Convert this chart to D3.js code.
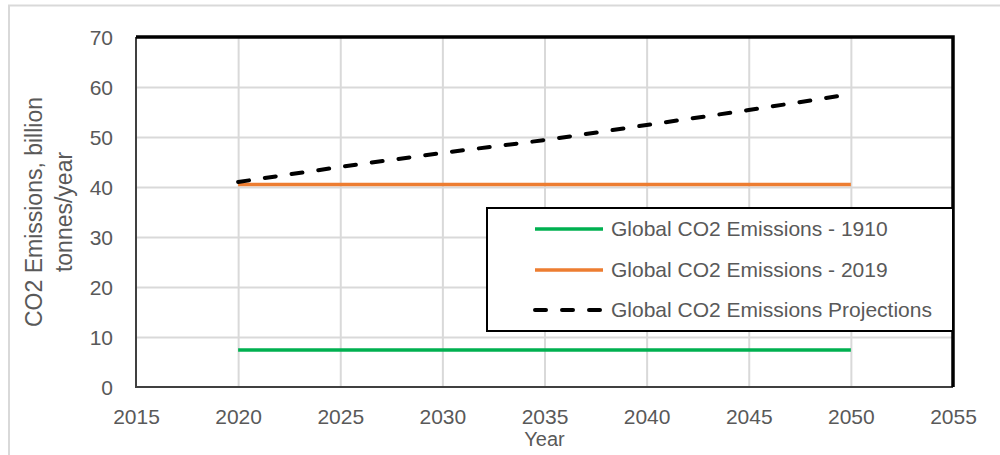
<!DOCTYPE html>
<html>
<head>
<meta charset="utf-8">
<script src="https://cdn.jsdelivr.net/npm/d3@7"></script>
<style>
  html, body { margin: 0; padding: 0; background: #fff; }
  svg { display: block; }
  text { font-family: "Liberation Sans", Arial, sans-serif; fill: #595959; }
</style>
</head>
<body>
<svg id="chart" width="1000" height="455"></svg>
<script>
// ---- data ----
const years = [2020, 2025, 2030, 2035, 2040, 2045, 2050];
const emissions1910 = [7.4, 7.4, 7.4, 7.4, 7.4, 7.4, 7.4];
const emissions2019 = [40.5, 40.5, 40.5, 40.5, 40.5, 40.5, 40.5];
const projections = [41.0, 44.0, 46.8, 49.4, 52.4, 55.4, 58.6];
const xTicks = [2015, 2020, 2025, 2030, 2035, 2040, 2045, 2050, 2055];
const yTicks = [0, 10, 20, 30, 40, 50, 60, 70];
const seriesNames = ["Global CO2 Emissions - 1910", "Global CO2 Emissions - 2019", "Global CO2 Emissions Projections"];
const seriesColors = ["#00b050", "#ed7d31", "#000000"];

(function () {
const svg = d3.select("#chart");
const pL = 136, pR = 953, pT = 37, pB = 387;

const x = d3.scaleLinear().domain([2015, 2055]).range([pL, pR]);
const y = d3.scaleLinear().domain([0, 70]).range([pB, pT]);
const FONT = '"Liberation Sans", Arial, sans-serif';

// outer frame
svg.append("path")
  .attr("d", "M9,460 L9,5.5 L1005,5.5")
  .attr("fill", "none").attr("stroke", "#d9d9d9").attr("stroke-width", 2);

// gridlines
svg.append("g")
  .attr("transform", `translate(0,${pB})`)
  .call(d3.axisBottom(x).tickValues(xTicks.slice(1, -1)).tickSize(-(pB - pT)).tickFormat(""))
  .call(g => g.select(".domain").remove())
  .call(g => g.selectAll("line").attr("stroke", "#d9d9d9").attr("stroke-width", 2));
svg.append("g")
  .attr("transform", `translate(${pL},0)`)
  .call(d3.axisLeft(y).tickValues(yTicks.slice(1, -1)).tickSize(-(pR - pL)).tickFormat(""))
  .call(g => g.select(".domain").remove())
  .call(g => g.selectAll("line").attr("stroke", "#d9d9d9").attr("stroke-width", 2));

// tick labels
svg.append("g")
  .attr("transform", `translate(0,${pB})`)
  .call(d3.axisBottom(x).tickValues(xTicks).tickSize(0).tickPadding(0).tickFormat(d3.format("d")))
  .call(g => g.select(".domain").remove())
  .call(g => g.selectAll("text").attr("dy", null).attr("y", 37)
    .style("font-size", "21px").style("fill", "#595959").style("font-family", FONT));
svg.append("g")
  .attr("transform", `translate(${pL},0)`)
  .call(d3.axisLeft(y).tickValues(yTicks).tickSize(0).tickPadding(0).tickFormat(d3.format("d")))
  .call(g => g.select(".domain").remove())
  .call(g => g.selectAll("text").attr("x", -23).attr("dy", "0.35em")
    .style("font-size", "21px").style("fill", "#595959").style("font-family", FONT));

// plot border
svg.append("path").attr("d", `M${pL},${pT} L${pL},${pB} L${pR},${pB}`)
  .attr("fill", "none").attr("stroke", "#404040").attr("stroke-width", 2);
svg.append("path").attr("d", `M${pL},${pT} L${pR},${pT} L${pR},${pB}`)
  .attr("fill", "none").attr("stroke", "#000").attr("stroke-width", 3.5);

// series
const line = d3.line().x(d => x(d[0])).y(d => y(d[1]));
const zip = vals => years.map((yr, i) => [yr, vals[i]]);

svg.append("path").datum(zip(emissions1910)).attr("d", line)
  .attr("fill", "none").attr("stroke", seriesColors[0]).attr("stroke-width", 3.5);
svg.append("path").datum(zip(emissions2019)).attr("d", line)
  .attr("fill", "none").attr("stroke", seriesColors[1]).attr("stroke-width", 3.5);
svg.append("path").datum(zip(projections)).attr("d", d3.line().x(d => x(d[0])).y(d => y(d[1])).curve(d3.curveMonotoneX))
  .attr("fill", "none").attr("stroke", seriesColors[2]).attr("stroke-width", 4)
  .attr("stroke-dasharray", "11,16").attr("stroke-linecap", "round");

// legend
const lg = svg.append("g");
lg.append("rect").attr("x", 487).attr("y", 208).attr("width", pR - 487).attr("height", 123)
  .attr("fill", "#fff").attr("stroke", "#000").attr("stroke-width", 2);
const rowY = [229, 270, 310];
seriesNames.forEach((name, i) => {
  const l = lg.append("line").attr("x1", 535).attr("x2", 603).attr("y1", rowY[i]).attr("y2", rowY[i])
    .attr("stroke", seriesColors[i]).attr("stroke-width", i === 2 ? 4 : 3.5);
  if (i === 2) l.attr("stroke-dasharray", "11,16").attr("stroke-linecap", "round");
  lg.append("text").attr("x", 611).attr("y", rowY[i]).attr("dy", "0.35em")
    .style("font-size", "21px").text(name);
});

// axis titles
svg.append("text").attr("x", (pL + pR) / 2).attr("y", 446)
  .attr("text-anchor", "middle").style("font-size", "20px").text("Year");
const yt = svg.append("text").attr("transform", `translate(0,${(pT + pB) / 2}) rotate(-90)`)
  .attr("text-anchor", "middle").style("font-size", "23px");
yt.append("tspan").attr("x", 0).attr("y", 42).text("CO2 Emissions, billion");
yt.append("tspan").attr("x", 0).attr("y", 72).text("tonnes/year");
})();
</script>
</body>
</html>
